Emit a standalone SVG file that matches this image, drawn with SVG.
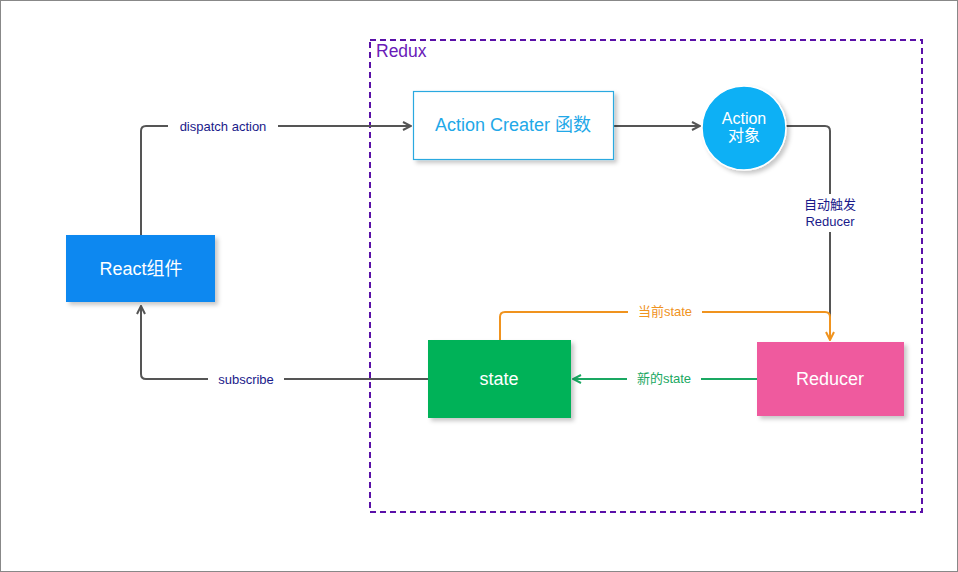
<svg xmlns="http://www.w3.org/2000/svg" width="958" height="572" viewBox="0 0 958 572">
<defs>
<filter id="sh" x="-20%" y="-20%" width="150%" height="150%">
<feDropShadow dx="3" dy="3" stdDeviation="2" flood-color="#000" flood-opacity="0.22"/>
</filter>
<marker id="ag" viewBox="0 0 10 10" refX="9" refY="5" markerWidth="10" markerHeight="10" markerUnits="userSpaceOnUse" orient="auto">
<path d="M1,1 L9,5 L1,9" fill="none" stroke="#555" stroke-width="2"/>
</marker>
<marker id="ao" viewBox="0 0 10 10" refX="9" refY="5" markerWidth="10" markerHeight="10" markerUnits="userSpaceOnUse" orient="auto">
<path d="M1,1 L9,5 L1,9" fill="none" stroke="#f0931e" stroke-width="2"/>
</marker>
<marker id="agr" viewBox="0 0 10 10" refX="9" refY="5" markerWidth="10" markerHeight="10" markerUnits="userSpaceOnUse" orient="auto">
<path d="M1,1 L9,5 L1,9" fill="none" stroke="#1aa862" stroke-width="2"/>
</marker>
</defs>
<style>
text{font-family:"Liberation Sans","Noto Sans CJK SC",sans-serif;text-anchor:middle;dominant-baseline:central}
.big{font-size:18px;fill:#fff}
.lbl{font-size:13px;fill:#1a1a8a}
.c{fill:none;stroke:#555;stroke-width:2}
.bg{fill:#fff}
</style>
<rect x="0.5" y="0.5" width="957" height="571" fill="#fff" stroke="#888" stroke-width="1"/>
<g id="redux">
<rect x="370" y="40" width="552" height="472" fill="none" stroke="#5a10a8" stroke-width="2" stroke-dasharray="6,4"/>
<text x="376" y="51" style="text-anchor:start;font-size:17.5px;fill:#6a1bb8">Redux</text>
</g>
<g id="connectors">
<path class="c" d="M141,235 V131 Q141,126 146,126 H411" marker-end="url(#ag)"/>
<rect class="bg" x="168" y="117" width="110" height="18"/>
<text class="lbl" x="223" y="126">dispatch action</text>
<path class="c" d="M613,126 H700" marker-end="url(#ag)"/>
<path class="c" d="M786,126 H825 Q830,126 830,131 V340"/>
<rect class="bg" x="798" y="194" width="64" height="38"/>
<text class="lbl" x="830" y="204">自动触发</text>
<text class="lbl" x="830" y="221">Reducer</text>
<path class="c" d="M428,379 H146 Q141,379 141,374 V306" marker-end="url(#ag)"/>
<rect class="bg" x="208" y="370" width="76" height="18"/>
<text class="lbl" x="246" y="379">subscribe</text>
<path d="M500,340 V317 Q500,312 505,312 H825 Q830,312 830,317 V340" fill="none" stroke="#f0931e" stroke-width="2" marker-end="url(#ao)"/>
<rect class="bg" x="628" y="302" width="74" height="18"/>
<text x="665" y="311" style="font-size:13px;fill:#f0931e">当前state</text>
<path d="M757,379 H573" fill="none" stroke="#1aa862" stroke-width="2" marker-end="url(#agr)"/>
<rect class="bg" x="627" y="369" width="74" height="18"/>
<text x="664" y="378" style="font-size:13px;fill:#1aa862">新的state</text>
</g>
<g id="react">
<rect x="66" y="235" width="149" height="67" fill="#0a88f0" filter="url(#sh)"/>
<text class="big" x="141" y="269">React组件</text>
</g>
<g id="creator">
<rect x="413.5" y="91.5" width="200" height="68" fill="#fff" stroke="#2aa9e0" stroke-width="1.2" filter="url(#sh)"/>
<text x="513" y="125" style="font-size:18px;fill:#22a8e8">Action Creater 函数</text>
</g>
<g id="action">
<circle cx="744" cy="128" r="42" fill="#0ab0f5" stroke="#fff" stroke-width="1.5" filter="url(#sh)"/>
<text x="744" y="118" style="font-size:16px;fill:#fff">Action</text>
<text x="744" y="135" style="font-size:16px;fill:#fff">对象</text>
</g>
<g id="state">
<rect x="428" y="340" width="143" height="78" fill="#00b259" filter="url(#sh)"/>
<text class="big" x="499" y="379">state</text>
</g>
<g id="reducer">
<rect x="757" y="342" width="147" height="74" fill="#ef5a9e" filter="url(#sh)"/>
<text class="big" x="830" y="379">Reducer</text>
</g>
</svg>
